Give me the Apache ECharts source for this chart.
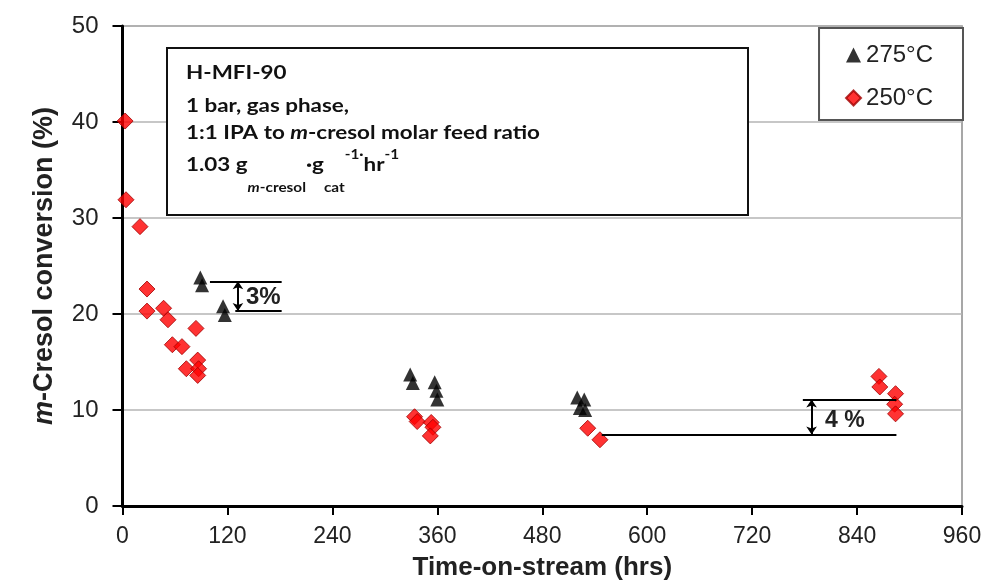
<!DOCTYPE html>
<html><head><meta charset="utf-8">
<script src="https://cdn.jsdelivr.net/npm/echarts@6/dist/echarts.min.js"></script>
<style>html,body{margin:0;padding:0;background:#fff}#c{width:991px;height:588px}</style>
</head><body><div id="c"></div>
<script>
// ---- data (hours, % conversion) ----
const hours275 = [89, 91, 115, 117, 329, 332, 357, 359, 360, 520, 523, 528, 529];
const conv275  = [23.8, 23.0, 20.8, 19.9, 13.7, 12.8, 12.9, 12.0, 11.1, 11.3, 10.2, 11.1, 10.0];
const hours250 = [3, 4, 20, 28, 28, 47, 52, 57, 68, 84, 73, 86, 87, 86, 334, 337, 353, 355, 352, 532, 546, 865, 866, 884, 883, 884];
const conv250  = [40.1, 31.9, 29.1, 22.6, 20.3, 20.6, 19.4, 16.8, 16.6, 18.5, 14.3, 15.2, 14.3, 13.6, 9.3, 8.8, 8.7, 8.2, 7.3, 8.1, 6.9, 13.5, 12.4, 11.7, 10.6, 9.6];
const xTicks = [0, 120, 240, 360, 480, 600, 720, 840, 960];
const yTicks = [0, 10, 20, 30, 40, 50];
const seriesNames = ['275°C', '250°C'];
// annotation brackets (data coords)
const bracket3 = {top: 23.4, bottom: 20.3, topFrom: 100, bottomFrom: 129, to: 182, arrowAt: 132};
const bracket4 = {top: 11.1, bottom: 7.45, topFrom: 778, bottomFrom: 548, to: 885, arrowAt: 788};

const zip = (a, b) => a.map((v, i) => [v, b[i]]);
const chart = echarts.init(document.getElementById('c'), null, {renderer: 'canvas'});
const AX = 'Liberation Sans, Arial, sans-serif';
const BOX = 'Lato, sans-serif';

function bracketLines(b) {
  return [
    [{coord: [b.topFrom, b.top]}, {coord: [b.to, b.top]}],
    [{coord: [b.bottomFrom, b.bottom]}, {coord: [b.to, b.bottom]}],
    [{coord: [b.arrowAt, b.top], symbol: 'arrow'}, {coord: [b.arrowAt, b.bottom], symbol: 'arrow'}]
  ];
}

const MAINF = 19, SUBF = 13;
const boxX = 186, SX = 1.18;
const mainTok = {fontFamily: BOX, fontSize: MAINF, fontWeight: 'bold', fill: '#111'};
const boxText = [
  {type: 'text', x: 0, y: 73, z: 12, style: {text: 'H-MFI-90', font: 'bold ' + MAINF + 'px ' + BOX, fill: '#111', verticalAlign: 'middle'}},
  {type: 'text', x: 0, y: 106, z: 12, style: {text: '1 bar, gas phase,', font: 'bold ' + MAINF + 'px ' + BOX, fill: '#111', verticalAlign: 'middle'}},
  {type: 'text', x: 0, y: 133, z: 12, style: {text: '1:1 IPA to {i|m}-cresol molar feed ratio', font: 'bold ' + MAINF + 'px ' + BOX, fill: '#111', verticalAlign: 'middle',
    rich: {i: Object.assign({}, mainTok, {fontStyle: 'italic'})}}},
  {type: 'text', x: 0, y: 165, z: 12, style: {
    text: '{a|1.03 g}{si|m}{s|-cresol}{a|·g}{s|cat}{p|-1·}{a|hr}{p|-1}',
    verticalAlign: 'middle', fill: '#111',
    rich: {
      a: Object.assign({}, mainTok, {lineHeight: 58, verticalAlign: 'middle'}),
      s: {fontFamily: BOX, fontSize: SUBF, fontWeight: 'bold', fill: '#111', lineHeight: 14, verticalAlign: 'bottom'},
      si: {fontFamily: BOX, fontSize: SUBF, fontWeight: 'bold', fontStyle: 'italic', fill: '#111', lineHeight: 14, verticalAlign: 'bottom'},
      p: {fontFamily: BOX, fontSize: SUBF, fontWeight: 'bold', fill: '#111', lineHeight: 14, verticalAlign: 'top', padding: [12, 0, 0, 0]}
    }}}
];

const option = {
  animation: false,
  backgroundColor: '#fff',
  grid: {left: 122.5, right: 29, top: 26, bottom: 82, show: true, borderColor: '#8a8a8a', borderWidth: 1.5},
  legend: {
    data: seriesNames, orient: 'vertical', right: 28, top: 28,
    backgroundColor: '#fff', borderColor: '#555', borderWidth: 2,
    padding: [15, 30, 10, 26], itemGap: 19, itemWidth: 15, itemHeight: 15,
    textStyle: {fontFamily: AX, fontSize: 24, color: '#222'}
  },
  xAxis: {
    type: 'value', min: xTicks[0], max: xTicks[xTicks.length - 1], interval: 120,
    name: 'Time-on-stream (hrs)', nameLocation: 'middle', nameGap: 49,
    nameTextStyle: {fontFamily: AX, fontSize: 26, fontWeight: 'bold', color: '#222'},
    axisLine: {lineStyle: {color: '#000', width: 3}},
    axisTick: {show: true, inside: false, length: 9, lineStyle: {color: '#000', width: 2}},
    axisLabel: {fontFamily: AX, fontSize: 23, color: '#222', margin: 19},
    splitLine: {show: false}
  },
  yAxis: {
    type: 'value', min: yTicks[0], max: yTicks[yTicks.length - 1], interval: 10,
    name: '{i|m}-Cresol conversion (%)', nameLocation: 'middle', nameGap: 64, nameRotate: 90,
    nameTextStyle: {fontFamily: AX, fontSize: 27, fontWeight: 'bold', color: '#222',
      rich: {i: {fontFamily: AX, fontSize: 27, fontWeight: 'bold', fontStyle: 'italic', color: '#222'}}},
    axisLine: {show: true, lineStyle: {color: '#000', width: 3}},
    axisTick: {show: true, inside: false, length: 10, lineStyle: {color: '#000', width: 2}},
    axisLabel: {fontFamily: AX, fontSize: 24, color: '#222', margin: 24},
    splitLine: {show: true, lineStyle: {color: '#b4b4b4', width: 1.5}}
  },
  graphic: [
    {type: 'rect', shape: {x: 167, y: 48, width: 581, height: 167}, style: {fill: '#fff', stroke: '#111', lineWidth: 2}, z: 10},
    {type: 'group', x: boxX, y: 0, scaleX: SX, z: 12, children: boxText},
    {type: 'text', x: 246, y: 297, z: 11, style: {text: '3%', font: 'bold 24px ' + AX, fill: '#222', verticalAlign: 'middle'}},
    {type: 'text', x: 825, y: 421, z: 11, style: {text: '4 %', font: 'bold 23px ' + AX, fill: '#222', verticalAlign: 'middle'}}
  ],
  series: [
    {
      name: seriesNames[0], type: 'scatter', symbol: 'triangle', symbolSize: 14,
      itemStyle: {color: '#000'}, data: zip(hours275, conv275), z: 3,
      markLine: {silent: true, symbol: 'none', symbolSize: 8, label: {show: false},
        lineStyle: {color: '#000', width: 2, type: 'solid'}, data: bracketLines(bracket3).concat(bracketLines(bracket4))}
    },
    {
      name: seriesNames[1], type: 'scatter', symbol: 'diamond', symbolSize: 16,
      itemStyle: {color: '#ff0000', borderColor: '#a00000', borderWidth: 1}, data: zip(hours250, conv250), z: 4
    }
  ]
};
chart.setOption(option);
</script></body></html>
